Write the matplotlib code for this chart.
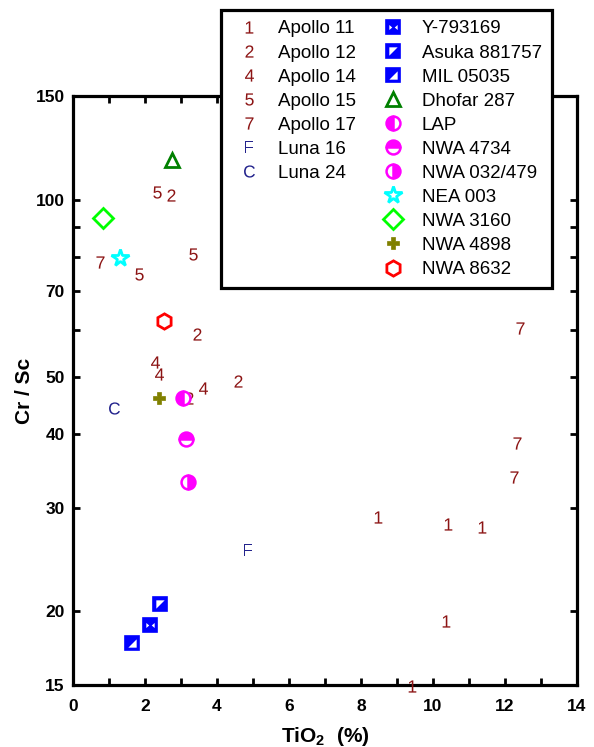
import matplotlib
matplotlib.use("Agg")
import matplotlib.pyplot as plt
from matplotlib.path import Path
from matplotlib.ticker import FixedLocator, NullFormatter, FixedFormatter
from matplotlib.lines import Line2D

plt.rcParams['font.family'] = ['Liberation Sans', 'DejaVu Sans']
plt.rcParams['mathtext.fontset'] = 'custom'
plt.rcParams['mathtext.rm'] = 'Liberation Sans'
plt.rcParams['mathtext.it'] = 'Liberation Sans'
plt.rcParams['mathtext.bf'] = 'Liberation Sans:bold'

# ---- data (TiO2 %, Cr/Sc) ----
apollo11_x = [8.47, 10.42, 11.36, 10.36, 9.42]
apollo11_y = [28.9, 28.2, 27.8, 19.3, 14.95]
apollo12_x = [2.72, 3.44, 4.58, 3.22]
apollo12_y = [102.0, 59.1, 49.2, 46.0]
apollo14_x = [2.28, 2.39, 3.61]
apollo14_y = [53.0, 50.6, 47.9]
apollo15_x = [2.33, 1.83, 3.33]
apollo15_y = [103.0, 74.8, 80.9]
apollo17_x = [0.75, 12.42, 12.33, 12.25]
apollo17_y = [78.4, 60.5, 38.7, 33.8]
luna16_x = [4.86]
luna16_y = [25.4]
luna24_x = [1.14]
luna24_y = [44.3]

y793169_x, y793169_y = [2.14], [19.0]
asuka_x, asuka_y = [2.42], [20.6]
mil_x, mil_y = [1.64], [17.7]
dhofar_x, dhofar_y = [2.75], [116.8]
lap_x, lap_y = [3.06], [46.1]
nwa4734_x, nwa4734_y = [3.14], [39.2]
nwa032_x, nwa032_y = [3.19], [33.2]
nea003_x, nea003_y = [1.31], [79.6]
nwa3160_x, nwa3160_y = [0.83], [93.1]
nwa4898_x, nwa4898_y = [2.39], [46.1]
nwa8632_x, nwa8632_y = [2.53], [62.2]

x_ticks = [0, 2, 4, 6, 8, 10, 12, 14]
y_ticks = [15, 20, 30, 40, 50, 70, 100, 150]
y_minor = [60, 80, 90]

DARKRED = '#8c1414'
NAVY = '#23238c'
BLUE = '#0000ff'

fig = plt.figure(figsize=(5.94, 7.47), dpi=100)
ax = fig.add_axes([73/594, 1-685/747, (577-73)/594, (685-96)/747])

def num(x, y, ch, color, label):
    h, = ax.plot(x, y, ls='none', marker=r'$\mathrm{%s}$' % ch, ms=8.8,
                 color=color, mew=0, label=label, clip_on=False, zorder=4)
    return h

h_a11 = num(apollo11_x, apollo11_y, '1', DARKRED, 'Apollo 11')
h_a12 = num(apollo12_x, apollo12_y, '2', DARKRED, 'Apollo 12')
h_a14 = num(apollo14_x, apollo14_y, '4', DARKRED, 'Apollo 14')
h_a15 = num(apollo15_x, apollo15_y, '5', DARKRED, 'Apollo 15')
h_a17 = num(apollo17_x, apollo17_y, '7', DARKRED, 'Apollo 17')
h_l16 = num(luna16_x, luna16_y, 'F', NAVY, 'Luna 16')
h_l24 = num(luna24_x, luna24_y, 'C', NAVY, 'Luna 24')

# custom overlay paths
bowtie = Path([(-0.5, 0.3), (-0.5, -0.3), (-0.15, 0), (-0.5, 0.3),
               (0.5, 0.3), (0.5, -0.3), (0.15, 0), (0.5, 0.3)],
              [Path.MOVETO, Path.LINETO, Path.LINETO, Path.CLOSEPOLY] * 2)
tri_ul = Path([(-0.5, 0.5), (0.5, 0.5), (-0.5, -0.5), (-0.5, 0.5)],
              [Path.MOVETO, Path.LINETO, Path.LINETO, Path.CLOSEPOLY])
tri_lr = Path([(0.5, -0.5), (0.5, 0.5), (-0.5, -0.5), (0.5, -0.5)],
              [Path.MOVETO, Path.LINETO, Path.LINETO, Path.CLOSEPOLY])

def sq(x, y, overlay, ov_ms):
    a, = ax.plot(x, y, ls='none', marker='s', ms=9.5, mfc=BLUE, mec=BLUE,
                 mew=1.2, zorder=4)
    b, = ax.plot(x, y, ls='none', marker=overlay, ms=ov_ms, mfc='white',
                 mec='none', mew=0, zorder=5)
    return (a, b)

h_y79 = sq(y793169_x, y793169_y, bowtie, 6.0)
h_asu = sq(asuka_x, asuka_y, tri_ul, 6.0)
h_mil = sq(mil_x, mil_y, tri_lr, 6.0)

h_dho, = ax.plot(dhofar_x, dhofar_y, ls='none', marker='^', ms=10, mfc='none',
                 mec='#008000', mew=2, zorder=4)
h_lap, = ax.plot(lap_x, lap_y, ls='none', marker='o', ms=10, fillstyle='left',
                 mfc='#ff00ff', mfcalt='white', mec='#ff00ff', mew=1.8, zorder=4)
h_n47, = ax.plot(nwa4734_x, nwa4734_y, ls='none', marker='o', ms=10, fillstyle='top',
                 mfc='#ff00ff', mfcalt='white', mec='#ff00ff', mew=1.8, zorder=4)
h_n03, = ax.plot(nwa032_x, nwa032_y, ls='none', marker='o', ms=10, fillstyle='right',
                 mfc='#ff00ff', mfcalt='white', mec='#ff00ff', mew=1.8, zorder=4)
h_nea, = ax.plot(nea003_x, nea003_y, ls='none', marker='*', ms=13, mfc='white',
                 mec='#00ffff', mew=2, zorder=4)
h_n31, = ax.plot(nwa3160_x, nwa3160_y, ls='none', marker='D', ms=10, mfc='none',
                 mec='#00ff00', mew=2, zorder=4)
h_n48, = ax.plot(nwa4898_x, nwa4898_y, ls='none', marker='P', ms=9, mfc='#808000',
                 mec='#808000', mew=0.5, zorder=4)
h_n86, = ax.plot(nwa8632_x, nwa8632_y, ls='none', marker='h', ms=11, mfc='white',
                 mec='#ff0000', mew=2, zorder=4)

ax.set_xlim(0, 14)
ax.set_yscale('log')
ax.set_ylim(15, 150)
ax.xaxis.set_major_locator(FixedLocator(x_ticks))
ax.xaxis.set_minor_locator(FixedLocator([1, 3, 5, 7, 9, 11, 13]))
ax.yaxis.set_major_locator(FixedLocator(y_ticks))
ax.yaxis.set_major_formatter(FixedFormatter([str(v) for v in y_ticks]))
ax.yaxis.set_minor_locator(FixedLocator(y_minor))
ax.yaxis.set_minor_formatter(NullFormatter())

for s in ax.spines.values():
    s.set_linewidth(2.3)
ax.tick_params(which='both', direction='in', top=True, right=True,
               length=5, width=2, labelsize=12.5, pad=6)
ax.tick_params(axis='x', which='both', pad=10)
for lab in ax.get_xticklabels() + ax.get_yticklabels():
    lab.set_fontweight('bold')

ax.set_xlabel(r'TiO$_\mathbf{2}$  (%)', fontsize=15, fontweight='bold', labelpad=8)
ax.set_ylabel('Cr / Sc', fontsize=15, fontweight='bold', labelpad=1)

blank = Line2D([], [], ls='none', marker=None)
leg_handles = [h_a11, h_a12, h_a14, h_a15, h_a17, h_l16, h_l24, blank, blank, blank, blank,
               h_y79, h_asu, h_mil, h_dho, h_lap, h_n47, h_n03, h_nea, h_n31, h_n48, h_n86]
leg_labels = ['Apollo 11', 'Apollo 12', 'Apollo 14', 'Apollo 15', 'Apollo 17', 'Luna 16', 'Luna 24',
              '', '', '', '',
              'Y-793169', 'Asuka 881757', 'MIL 05035', 'Dhofar 287', 'LAP', 'NWA 4734',
              'NWA 032/479', 'NEA 003', 'NWA 3160', 'NWA 4898', 'NWA 8632']
leg = fig.legend(leg_handles, leg_labels, ncol=2, loc='upper left',
                 bbox_to_anchor=(221/594, 1-10/747), bbox_transform=fig.transFigure,
                 fontsize=13.5, frameon=True, fancybox=False, edgecolor='black',
                 framealpha=1, borderpad=0.55, labelspacing=0.37, handlelength=1.9,
                 handletextpad=0.6, columnspacing=1.0, borderaxespad=0)
leg.get_frame().set_linewidth(2.3)

fig.savefig('out.png', dpi=100)
